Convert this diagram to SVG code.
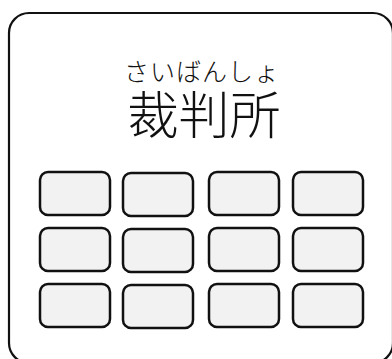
<svg xmlns="http://www.w3.org/2000/svg" width="392" height="359" viewBox="0 0 392 359">
<style>
.cell{fill:#f2f2f2;stroke:#111;stroke-width:2.5}
.t{font-family:"Noto Sans CJK JP","Noto Sans CJK SC",sans-serif;fill:#111;text-anchor:middle;font-weight:300}
</style>
<rect width="392" height="359" fill="#fff"/>
<g id="court">
<rect x="9" y="13" width="384" height="350" rx="20" fill="#fff" stroke="#111" stroke-width="2.2"/>
<text class="t" x="202" y="81" font-size="25" letter-spacing="1">さいばんしょ</text>
<text class="t" x="204" y="134" font-size="51">裁判所</text>
</g>
<g id="cells">
<rect class="cell" x="40" y="172" width="70" height="43" rx="8"/>
<rect class="cell" x="123" y="173" width="70" height="43" rx="8"/>
<rect class="cell" x="209" y="172" width="70" height="43" rx="8"/>
<rect class="cell" x="293" y="172" width="70" height="43" rx="8"/>
<rect class="cell" x="40" y="228" width="70" height="43" rx="8"/>
<rect class="cell" x="123" y="229" width="70" height="43" rx="8"/>
<rect class="cell" x="209" y="228" width="70" height="43" rx="8"/>
<rect class="cell" x="293" y="228" width="70" height="43" rx="8"/>
<rect class="cell" x="40" y="284" width="70" height="43" rx="8"/>
<rect class="cell" x="123" y="285" width="70" height="43" rx="8"/>
<rect class="cell" x="209" y="284" width="70" height="43" rx="8"/>
<rect class="cell" x="293" y="284" width="70" height="43" rx="8"/>
</g>
</svg>
